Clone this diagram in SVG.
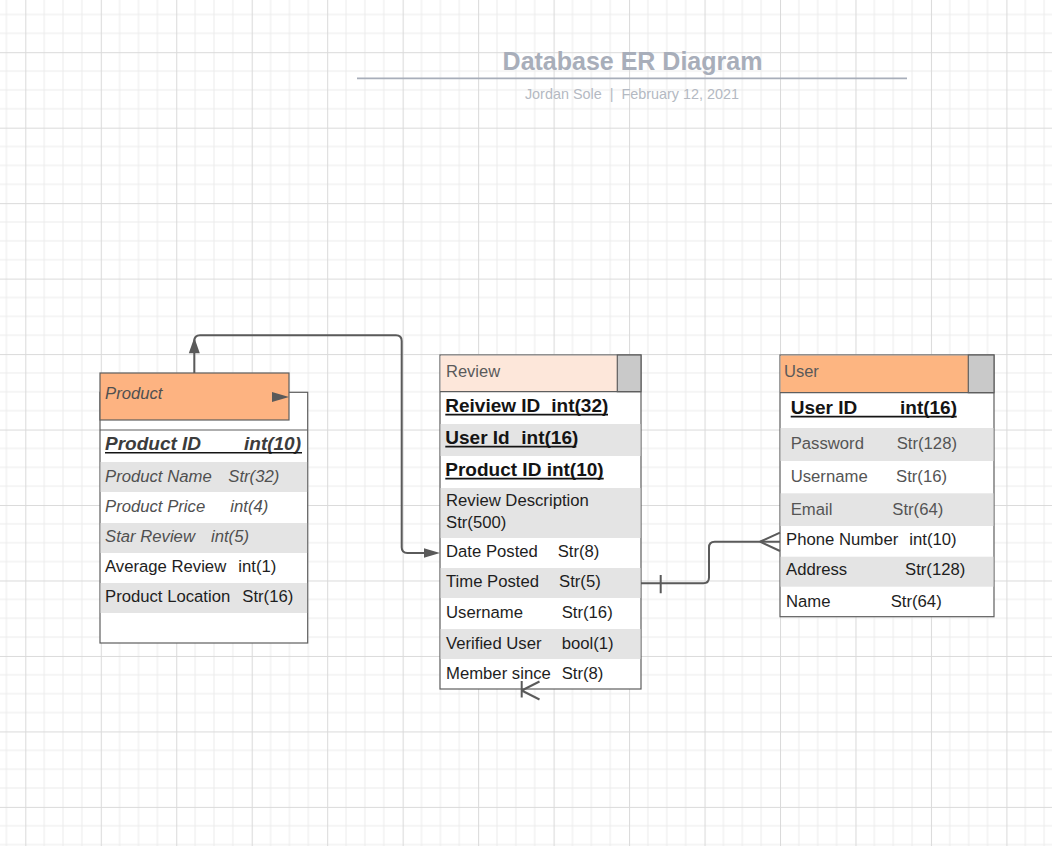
<svg xmlns="http://www.w3.org/2000/svg" width="1052" height="846" viewBox="0 0 1052 846">
<defs>
<pattern id="grid" patternUnits="userSpaceOnUse" x="-50.17" y="-23.27" width="75.47" height="75.47">
<rect width="75.47" height="75.47" fill="#ffffff"/>
<path d="M18.87,0V75.47M37.73,0V75.47M56.6,0V75.47M0,18.87H75.47M0,37.73H75.47M0,56.6H75.47" stroke="#ececec" stroke-width="1" fill="none"/>
<path d="M0.5,0V75.47M0,0.5H75.47" stroke="#dadada" stroke-width="1" fill="none"/>
</pattern>
<style>
.tbl{fill:#ffffff;stroke:#5e5e5e;stroke-width:1.2}
.hdr{stroke:#5e5e5e;stroke-width:1.2}
.gblk{fill:#c9c9c9;stroke:#5e5e5e;stroke-width:1.2}
.row{fill:#e4e4e4}
.t{font-family:"Liberation Sans",Arial,sans-serif;font-size:16.7px;fill:#1e1e1e}
.tg{font-family:"Liberation Sans",Arial,sans-serif;font-size:16.7px;fill:#555555}
.ti{font-family:"Liberation Sans",Arial,sans-serif;font-size:16.7px;font-style:italic;fill:#505050}
.h{font-family:"Liberation Sans",Arial,sans-serif;font-size:16.5px;fill:#5a5a5a}
.b{font-family:"Liberation Sans",Arial,sans-serif;font-size:19px;font-weight:bold;fill:#141414}
.bi{font-family:"Liberation Sans",Arial,sans-serif;font-size:19px;font-weight:bold;font-style:italic;fill:#3c3c3c}
.ul{stroke:#141414;stroke-width:1.6}
.cn{fill:none;stroke:#5a5a5a;stroke-width:2}
.ah{fill:#5a5a5a}
</style>
</defs>
<rect x="0" y="0" width="1052" height="846" fill="url(#grid)"/>

<g id="title">
<text x="632.5" y="70" text-anchor="middle" font-family="Liberation Sans, Arial, sans-serif" font-size="25" font-weight="bold" fill="#a8aeba">Database ER Diagram</text>
<line x1="357" y1="78.3" x2="907" y2="78.3" stroke="#a8aeba" stroke-width="1.8"/>
<text x="632" y="99" text-anchor="middle" font-family="Liberation Sans, Arial, sans-serif" font-size="14.4" fill="#b4b9c2" xml:space="preserve">Jordan Sole  |  February 12, 2021</text>
</g>

<g id="product">
<rect class="tbl" x="100" y="392.3" width="207.7" height="250.7"/>
<rect class="row" x="100.6" y="462" width="206.5" height="30"/>
<rect class="row" x="100.6" y="523" width="206.5" height="30"/>
<rect class="row" x="100.6" y="583" width="206.5" height="30"/>
<line class="hdr" x1="100" y1="430" x2="307.7" y2="430"/>
<rect class="hdr" x="100" y="373" width="189" height="47" fill="#fdb381"/>
<polygon class="ah" points="272,392 289,397 272,402"/>
<text class="ti" x="105" y="399">Product</text>
<text class="bi" x="105" y="450">Product ID</text>
<text class="bi" x="244" y="450">int(10)</text>
<line class="ul" x1="105" y1="452.8" x2="302" y2="452.8" stroke="#3c3c3c"/>
<text class="ti" x="105" y="481.5">Product Name</text>
<text class="ti" x="228.3" y="481.5">Str(32)</text>
<text class="ti" x="105" y="511.7">Product Price</text>
<text class="ti" x="230.3" y="511.7">int(4)</text>
<text class="ti" x="105" y="541.5">Star Review</text>
<text class="ti" x="211" y="541.5">int(5)</text>
<text class="t" x="105" y="571.5">Average Review</text>
<text class="t" x="238.3" y="571.5">int(1)</text>
<text class="t" x="105" y="601.5">Product Location</text>
<text class="t" x="242.3" y="601.5">Str(16)</text>
</g>

<g id="review">
<rect class="tbl" x="440" y="355" width="201" height="334"/>
<rect x="440.6" y="355.6" width="177" height="36" fill="#fde7da"/>
<rect class="gblk" x="617.3" y="355" width="23.7" height="36.7"/>
<line class="hdr" x1="440" y1="391.7" x2="641" y2="391.7"/>
<rect class="row" x="440.6" y="424" width="199.8" height="32"/>
<rect class="row" x="440.6" y="488" width="199.8" height="50"/>
<rect class="row" x="440.6" y="568" width="199.8" height="30"/>
<rect class="row" x="440.6" y="629" width="199.8" height="30"/>
<text class="h" x="446" y="376.5" fill="#666666">Review</text>
<text class="b" x="445.3" y="412">Reiview ID</text>
<text class="b" x="551.3" y="412">int(32)</text>
<line class="ul" x1="445.3" y1="414.6" x2="608" y2="414.6"/>
<text class="b" x="445.3" y="444">User Id</text>
<text class="b" x="521.3" y="444">int(16)</text>
<line class="ul" x1="445.3" y1="446.6" x2="576.3" y2="446.6"/>
<text class="b" x="445.3" y="476">Product ID int(10)</text>
<line class="ul" x1="445.3" y1="478.6" x2="603.7" y2="478.6"/>
<text class="t" x="446" y="506">Review Description</text>
<text class="t" x="446" y="528.3">Str(500)</text>
<text class="t" x="446" y="557.3">Date Posted</text>
<text class="t" x="557.7" y="557.3">Str(8)</text>
<text class="t" x="446" y="587.3">Time Posted</text>
<text class="t" x="559" y="587.3">Str(5)</text>
<text class="t" x="446" y="618.3">Username</text>
<text class="t" x="561.7" y="618.3">Str(16)</text>
<text class="t" x="446" y="649">Verified User</text>
<text class="t" x="561.7" y="649">bool(1)</text>
<text class="t" x="446" y="679">Member since</text>
<text class="t" x="561.7" y="679">Str(8)</text>
</g>

<g id="user">
<rect class="tbl" x="780" y="355" width="214" height="261.7"/>
<rect x="780.6" y="355.6" width="188" height="37" fill="#fdb581"/>
<rect class="gblk" x="968.3" y="355" width="25.7" height="37.7"/>
<line class="hdr" x1="780" y1="392.7" x2="994" y2="392.7"/>
<rect class="row" x="780.6" y="428" width="212.8" height="33"/>
<rect class="row" x="780.6" y="493.3" width="212.8" height="32.7"/>
<rect class="row" x="780.6" y="556.7" width="212.8" height="30"/>
<text class="h" x="784" y="376.7">User</text>
<text class="b" x="790.7" y="414">User ID</text>
<text class="b" x="900" y="414">int(16)</text>
<line class="ul" x1="790.7" y1="416.6" x2="956.7" y2="416.6"/>
<text class="tg" x="790.7" y="449.3">Password</text>
<text class="tg" x="896.7" y="449.3">Str(128)</text>
<text class="tg" x="790.7" y="482">Username</text>
<text class="tg" x="896" y="482">Str(16)</text>
<text class="tg" x="790.7" y="515">Email</text>
<text class="tg" x="892.3" y="515">Str(64)</text>
<text class="t" x="786" y="545">Phone Number</text>
<text class="t" x="909.3" y="545">int(10)</text>
<text class="t" x="786" y="575">Address</text>
<text class="t" x="905" y="575">Str(128)</text>
<text class="t" x="786" y="606.7" fill="#333333">Name</text>
<text class="t" x="890.7" y="606.7" fill="#333333">Str(64)</text>
</g>

<g id="connectors">
<path class="cn" d="M194.3,373 V341 Q194.3,335.3 200,335.3 H396 Q401.7,335.3 401.7,341 V547.3 Q401.7,553 407.4,553 H426"/>
<polygon class="ah" points="194.3,337.5 188.8,353.3 199.8,353.3"/>
<polygon class="ah" points="440,553 424,548.3 424,557.7"/>
<path class="cn" d="M641,583.3 H703.3 Q709,583.3 709,577.6 V547.4 Q709,541.7 714.7,541.7 H780"/>
<path class="cn" d="M660.7,575 V593.3 M760,541.7 L780,532.7 M760,541.7 L780,551"/>
<path class="cn" d="M521.7,681 V697.5 M521.7,690.5 L539.5,681.5 M521.7,690.5 L539.5,699.5"/>
</g>
</svg>
